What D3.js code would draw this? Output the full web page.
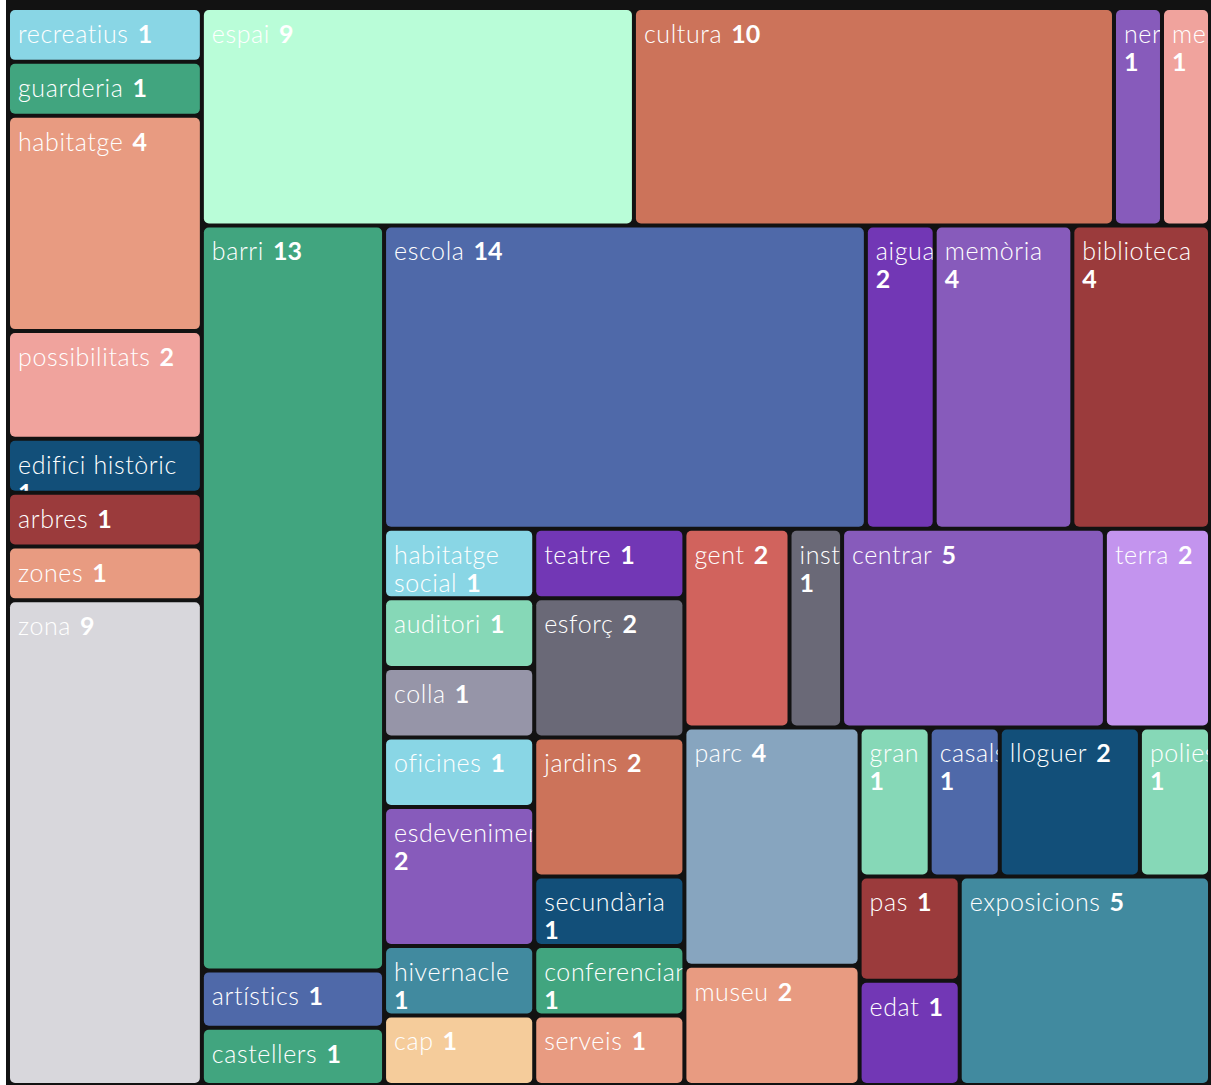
<!DOCTYPE html>
<html>
<head>
<meta charset="utf-8">
<script src="https://cdn.jsdelivr.net/npm/d3@7"></script>
<style>
  html, body { margin: 0; padding: 0; background: #ffffff; }
  #chart { position: absolute; left: 6px; top: 0; display: block; background: #121212; }
  text { font-family: Lato, "Open Sans", sans-serif; }
</style>
</head>
<body>
<svg id="chart"></svg>
<script>
// Word frequencies, in layout order
const words = [
  "recreatius", "guarderia", "habitatge", "possibilitats", "edifici històric", "arbres", "zones", "zona",
  "espai", "cultura", "nervi", "memòries",
  "barri", "artístics", "castellers",
  "escola", "aigua", "memòria", "biblioteca",
  "habitatge social", "auditori", "colla", "oficines", "esdeveniments", "hivernacle", "cap",
  "teatre", "esforç", "jardins", "secundària", "conferenciant", "serveis",
  "gent", "institut", "centrar", "terra",
  "parc", "museu",
  "gran", "casals", "lloguer", "poliesportiu",
  "pas", "edat",
  "exposicions"
];
const counts = [
  1, 1, 4, 2, 1, 1, 1, 9,
  9, 10, 1, 1,
  13, 1, 1,
  14, 2, 4, 4,
  1, 1, 1, 1, 2, 1, 1,
  1, 2, 2, 1, 1, 1,
  2, 1, 5, 2,
  4, 2,
  1, 1, 2, 1,
  1, 1,
  5
];
const cellColors = [
  "#89d6e5", "#41a57f", "#e89b81", "#f0a39d", "#124f79", "#9b3b3c", "#e89b81", "#d8d7dc",
  "#b9fdd8", "#cc735a", "#875bbb", "#f0a39d",
  "#41a57f", "#4f69a9", "#41a57f",
  "#4f69a9", "#7237b5", "#875bbb", "#9b3b3c",
  "#89d6e5", "#86d8b7", "#9695a8", "#89d6e5", "#875bbb", "#418a9f", "#f5cc9b",
  "#7237b5", "#6a6977", "#cc735a", "#124f79", "#41a57f", "#e89b81",
  "#d1635d", "#6a6977", "#875bbb", "#c394ee",
  "#87a5bf", "#e89b81",
  "#86d8b7", "#4f69a9", "#124f79", "#86d8b7",
  "#9b3b3c", "#7237b5",
  "#418a9f"
];
// Number of cells in each successive strip of the layout
const stripLengths = [8, 4, 3, 4, 7, 6, 4, 2, 4, 2, 1];

const width = 1205, height = 1085;
const fontSize = 25, lineHeight = 28, padX = 8, firstBaseline = 33;
const nameWeight = 300, valueWeight = 700, valueGap = 3, nameSpacing = 0.6;

const svg = d3.select("#chart").attr("width", width).attr("height", height);

// Strip tiling: each strip fills the short side of what remains, as in squarified layouts
function stripTile(parent, x0, y0, x1, y1) {
  let remaining = parent.value, i = 0;
  for (const n of stripLengths) {
    const row = { children: parent.children.slice(i, i + n) };
    row.value = d3.sum(row.children, d => d.value);
    const dx = x1 - x0, dy = y1 - y0;
    if (dx < dy) {
      const yy = y0 + dy * row.value / remaining;
      d3.treemapDice(row, x0, y0, x1, yy);
      y0 = yy;
    } else {
      const xx = x0 + dx * row.value / remaining;
      d3.treemapSlice(row, x0, y0, xx, y1);
      x0 = xx;
    }
    remaining -= row.value;
    i += n;
  }
}

const data = { children: words.map((w, i) => ({ name: w, value: counts[i], color: cellColors[i] })) };
const root = d3.hierarchy(data).sum(d => d.value || 0);

d3.treemap()
  .tile(stripTile)
  .size([1202, 1077])
  .paddingInner(4)
  .paddingOuter(2)(root);

const g = svg.append("g").attr("transform", "translate(2,8)");

function styleToken(ts, tk) {
  ts.attr("font-weight", tk.bold ? valueWeight : nameWeight)
    .attr("letter-spacing", tk.bold ? 0 : nameSpacing);
}

// hidden measurer for label wrapping
const measurer = g.append("text").attr("font-size", fontSize).attr("visibility", "hidden");
function measure(tokens) {
  measurer.selectAll("tspan").remove();
  tokens.forEach((tk, i) => {
    const ts = measurer.append("tspan").text((i ? " " : "") + tk.t);
    styleToken(ts, tk);
  });
  return measurer.node().getComputedTextLength() + (tokens.length > 1 && tokens[tokens.length - 1].bold ? valueGap : 0);
}

const leaves = root.leaves();
const cell = g.selectAll("g.cell").data(leaves).join("g").attr("class", "cell");

cell.append("clipPath")
  .attr("id", (d, i) => "clip" + i)
  .append("rect")
  .attr("x", d => d.x0).attr("y", d => d.y0)
  .attr("width", d => d.x1 - d.x0).attr("height", d => d.y1 - d.y0)
  .attr("rx", 5);

cell.append("rect")
  .attr("x", d => d.x0).attr("y", d => d.y0)
  .attr("width", d => d.x1 - d.x0).attr("height", d => d.y1 - d.y0)
  .attr("rx", 5).attr("ry", 5)
  .attr("fill", d => d.data.color);

cell.each(function (d, i) {
  const avail = d.x1 - d.x0 - 2 * padX;
  const tokens = d.data.name.split(" ").map(t => ({ t, bold: false }))
    .concat([{ t: String(d.data.value), bold: true }]);
  const lines = [];
  let cur = [];
  tokens.forEach(tk => {
    if (cur.length && measure(cur.concat([tk])) > avail) {
      lines.push(cur);
      cur = [tk];
    } else cur.push(tk);
  });
  if (cur.length) lines.push(cur);

  const text = d3.select(this).append("text")
    .attr("clip-path", `url(#clip${i})`)
    .attr("font-size", fontSize)
    .attr("fill", "#ffffff");
  lines.forEach((line, li) => {
    line.forEach((tk, ti) => {
      const ts = text.append("tspan").text((ti ? " " : "") + tk.t);
      styleToken(ts, tk);
      if (ti === 0) ts.attr("x", d.x0 + padX).attr("y", d.y0 + firstBaseline + li * lineHeight);
      else if (tk.bold) ts.attr("dx", valueGap);
    });
  });
});
measurer.remove();
</script>
</body>
</html>
